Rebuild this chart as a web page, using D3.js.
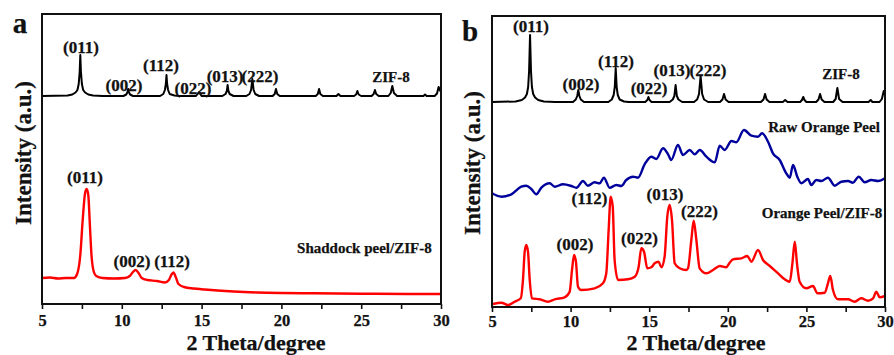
<!DOCTYPE html>
<html>
<head>
<meta charset="utf-8">
<script src="https://cdn.jsdelivr.net/npm/d3@7"></script>
<style>
body { margin: 0; background: #fff; }
text { font-family: "Liberation Serif", "Times New Roman", serif; font-weight: bold; fill: #111; stroke: #111; stroke-width: 0.25px; }
</style>
</head>
<body>
<div id="chart"></div>
<script>
// x axis
var xTicks = [5, 10, 15, 20, 25, 30];
var xMinor = [7.5, 12.5, 17.5, 22.5, 27.5];

// panel a : simulated ZIF-8 (2theta, intensity a.u.)
var zifA = [
  [5,208],[6.6,208.5],[6.9,209.5],[7.1,211.5],[7.22,214],[7.3,220],[7.36,232],[7.4,249],[7.44,232],[7.5,220],[7.58,214],[7.7,211.5],[7.9,209.5],[8.2,208.5],[8.8,208],
  [10.1,208],[10.28,209.5],[10.36,212],[10.4,215],[10.44,212],[10.52,209.5],[10.7,208],
  [12.4,208],[12.6,210],[12.7,214],[12.76,220],[12.8,229],[12.84,220],[12.9,214],[13.0,210],[13.3,208.5],[13.6,208],
  [14.65,208],[14.84,212],[15.0,208],
  [16.3,208],[16.5,210],[16.58,213],[16.63,219],[16.68,213],[16.76,210],[17.0,208],
  [17.8,208],[18.0,210],[18.1,214],[18.18,225],[18.26,214],[18.36,210],[18.6,208],
  [19.45,208],[19.58,210],[19.66,215],[19.74,210],[19.9,208],
  [22.15,208],[22.28,210],[22.36,215],[22.44,210],[22.6,208],
  [23.45,208],[23.57,210],[23.7,208],
  [24.55,208],[24.68,209.5],[24.76,213],[24.84,209.5],[25.0,208],
  [25.65,208],[25.78,210],[25.86,214],[25.94,210],[26.1,208],
  [26.7,208],[26.85,211],[26.95,218],[27.05,211],[27.25,208],
  [28.9,208],[29.0,209.5],[29.1,208],
  [29.6,208],[29.75,210.5],[29.85,217],[29.93,214],[30,212]
];

// panel a : Shaddock peel/ZIF-8
var shaddockA = [
  [5,26],[5.5,26.5],[6,25.5],[6.5,26],[7.0,26],[7.2,30],[7.4,49],[7.55,84],[7.7,111],[7.8,115],[7.9,109],[8.0,79],[8.1,49],
  [8.25,32],[8.4,28],[8.8,26],[9.5,25.5],[10.2,26],[10.5,28],[10.7,32],[10.87,34],[11.05,31],[11.25,26],[11.6,24],
  [12.2,23],[12.7,21.5],[12.95,24],[13.1,29],[13.23,31.5],[13.38,27],[13.55,20],[13.9,17],[14.5,15.5],[15.2,14.5],
  [16,13.5],[17,12.5],[18.5,11.5],[20,11],[22,10.7],[25,10.3],[28,10],[30,10]
];

// panel b : simulated ZIF-8
var zifB = [
  [5,205],[6.5,205.5],[6.9,207],[7.1,209.5],[7.22,213],[7.3,220],[7.36,236],[7.42,272],[7.48,236],[7.54,220],[7.62,213],[7.74,209.5],[7.94,207],[8.3,205.5],[9,205],
  [10.15,205],[10.33,207.5],[10.42,211],[10.49,217],[10.56,211],[10.65,207.5],[10.85,205],
  [12.4,205],[12.62,207.5],[12.74,212],[12.81,220],[12.87,239],[12.93,220],[13.0,212],[13.12,207.5],[13.4,205.5],[13.7,205],
  [14.75,205],[14.88,207],[14.95,210],[15.02,207],[15.15,205],
  [16.3,205],[16.5,207.5],[16.6,211],[16.68,222],[16.76,211],[16.86,207.5],[17.1,205],
  [17.85,205],[18.05,207.5],[18.17,213],[18.27,231],[18.37,213],[18.49,207.5],[18.75,205],
  [19.5,205],[19.66,207.5],[19.76,213],[19.86,207.5],[20.05,205],
  [22.1,205],[22.27,207.5],[22.37,213],[22.47,207.5],[22.65,205],
  [23.5,205],[23.65,207],[23.8,205],
  [24.6,205],[24.72,207],[24.8,210],[24.88,207],[25.0,205],
  [25.62,205],[25.77,207.5],[25.87,213],[25.97,207.5],[26.15,205],
  [26.7,205],[26.86,208],[26.97,219],[27.08,208],[27.3,205],
  [28.95,205],[29.09,207],[29.2,205],
  [29.65,205],[29.8,208],[29.92,216],[30,213]
];

// panel b : Raw Orange Peel
var rawPeelB = [
  [5.0,113.7],[5.6,110.3],[6.23,112.7],[6.86,120.3],[7.18,121.3],[7.5,118],[7.82,112.7],[8.14,119.3],[8.67,123.7],[8.99,120.3],
  [9.52,122.7],[10.05,121],[10.37,119.3],[10.79,126],[11.1,121.3],[11.53,124.7],[11.85,123.7],[12.12,129.3],[12.48,119.3],
  [12.91,122],[13.22,121],[13.54,127],[13.97,130.3],[14.29,129.3],[14.71,142.7],[15.13,150.3],[15.45,148],[15.88,158.7],
  [16.2,152.7],[16.4,147],[16.83,162],[17.15,152],[17.58,157],[17.89,152.7],[18.21,157],[18.64,150.3],[19.17,144.7],
  [19.49,161.3],[19.8,157],[20.23,166],[20.54,164.7],[21.03,177],[21.5,171.3],[21.92,170.3],[22.18,173.7],[22.56,165.3],
  [22.87,153.7],[23.3,147],[23.72,133.7],[23.94,129.3],[24.15,142],[24.42,130.3],[24.68,123.7],[25.1,128],[25.31,122],
  [25.63,127],[25.95,126],[26.37,129.3],[26.8,121.3],[27.22,125.3],[27.65,126],[27.96,124.3],[28.33,130.3],[28.71,124.7],
  [29.13,127],[29.56,126],[30,128.7]
];

// panel b : Orange Peel/ZIF-8
var peelZifB = [
  [5.06,3],[5.6,4.3],[6.02,2],[6.44,5.3],[6.83,8.7],[6.97,27],[7.08,55.3],[7.18,62],[7.29,55.3],[7.4,27],[7.54,8.7],
  [8.03,7.7],[8.56,5.3],[8.99,7.7],[9.62,9.7],[9.94,15.3],[10.09,37],[10.22,52],[10.34,45.3],[10.47,20.3],[10.68,17],
  [11.53,18.7],[12.06,23.7],[12.27,33.7],[12.42,77],[12.55,110.3],[12.68,100.3],[12.8,47],[13.02,27],[13.65,27.7],
  [14.08,30.3],[14.33,40.3],[14.5,58.7],[14.67,55.3],[14.88,38.7],[15.13,39.7],[15.35,43.7],[15.6,45.3],[15.77,39.7],
  [15.98,50.3],[16.15,90.3],[16.3,102],[16.45,87],[16.62,43.7],[16.94,38.7],[17.36,37],[17.47,38.7],[17.68,67],
  [17.83,86.3],[18.0,67],[18.21,38.7],[18.64,33.7],[19.06,37],[19.49,41],[19.9,39.7],[20.12,44.3],[20.33,47.7],
  [20.86,48.7],[21.24,51],[21.5,45.3],[21.92,57],[22.24,47],[22.67,41],[23.2,33.7],[23.62,27.7],[23.94,25.3],
  [24.11,43.7],[24.26,65.3],[24.4,43.7],[24.57,25.3],[25.0,18.7],[25.42,21],[25.7,13.7],[26.17,14.3],[26.37,23.7],
  [26.52,31],[26.69,17],[27.01,7.7],[27.65,7.7],[28.07,5.3],[28.49,8.7],[28.92,6.3],[29.24,8.7],[29.45,15.3],
  [29.66,9.7],[30,11]
];

// annotations: [text, 2theta, intensity]
var labelsA = [
  ["(011)", 7.44, 251], ["(002)", 10.14, 213], ["(112)", 12.46, 233], ["(022)", 14.46, 210],
  ["(013)", 16.47, 222], ["(222)", 18.66, 222],
  ["(011)", 7.69, 121], ["(002)", 10.64, 37], ["(112)", 13.15, 37]
];
var seriesNamesA = [["ZIF-8", 26.87, 222.5], ["Shaddock peel/ZIF-8", 25.2, 51]];
var labelsB = [
  ["(011)", 7.48, 275], ["(002)", 10.66, 217], ["(112)", 12.89, 240], ["(022)", 14.99, 213],
  ["(013)", 16.45, 231], ["(222)", 18.74, 231],
  ["(002)", 10.28, 57], ["(112)", 11.2, 103], ["(022)", 14.38, 63], ["(013)", 16.0, 107], ["(222)", 18.2, 90]
];
var seriesNamesB = [["ZIF-8", 27.2, 228], ["Raw Orange Peel", 26.12, 175], ["Orange Peel/ZIF-8", 25.99, 89]];

var W = 894, H = 355;
var svg = d3.select("#chart").append("svg")
    .attr("width", W)
    .attr("height", H);
svg.append("rect").attr("width", W).attr("height", H).attr("fill", "#fff");

function drawPanel(p) {
    var x = d3.scaleLinear().domain([5, 30]).range([p.left, p.right]);
    var y = d3.scaleLinear().domain([0, p.yMax]).range([p.bottom, p.top]);
    var g = svg.append("g");

    // series
    p.series.forEach(function(s) {
        var line = d3.line()
            .x(function(d) { return x(d[0]); })
            .y(function(d) { return y(d[1]); })
            .curve(s.curve);
        g.append("path")
            .datum(s.data)
            .attr("d", line)
            .attr("fill", "none")
            .attr("stroke", s.color)
            .attr("stroke-width", s.width)
            .attr("stroke-linejoin", "round");
    });

    // x axis, ticks outward
    var ax = g.append("g")
        .attr("transform", "translate(0," + p.bottom + ")")
        .call(d3.axisBottom(x).tickValues(xTicks).tickSizeInner(5).tickSizeOuter(0).tickPadding(p.pad).tickFormat(d3.format("d")));
    ax.select(".domain").remove();
    ax.selectAll(".tick line").attr("stroke", "#111").attr("stroke-width", 1.6);
    ax.selectAll("text").style("font-size", "16.5px").attr("fill", "#111");

    var mn = g.append("g")
        .attr("transform", "translate(0," + p.bottom + ")")
        .call(d3.axisBottom(x).tickValues(xMinor).tickSizeInner(5).tickSizeOuter(0).tickFormat(""));
    mn.select(".domain").remove();
    mn.selectAll(".tick line").attr("stroke", "#111").attr("stroke-width", 1.6);

    // frame
    g.append("rect")
        .attr("x", p.left).attr("y", p.top)
        .attr("width", p.right - p.left).attr("height", p.bottom - p.top)
        .attr("fill", "none").attr("stroke", "#111").attr("stroke-width", 2);

    // peak labels
    g.selectAll(".hkl").data(p.labels).enter().append("text")
        .attr("x", function(d) { return x(d[1]); })
        .attr("y", function(d) { return y(d[2]); })
        .attr("text-anchor", "middle")
        .style("font-size", "17px")
        .text(function(d) { return d[0]; });

    g.selectAll(".name").data(p.names).enter().append("text")
        .attr("x", function(d) { return x(d[1]); })
        .attr("y", function(d) { return y(d[2]); })
        .attr("text-anchor", "middle")
        .style("font-size", "15px")
        .text(function(d) { return d[0]; });

    // axis titles
    g.append("text")
        .attr("x", p.xTitleX).attr("y", p.xTitleY)
        .attr("text-anchor", "middle")
        .style("font-size", "22px")
        .text("2 Theta/degree");
    g.append("text")
        .attr("transform", "translate(" + p.yTitleX + "," + p.yTitleY + ") rotate(-90)")
        .attr("text-anchor", "middle")
        .style("font-size", "23px")
        .text("Intensity (a.u.)");

    // panel letter
    g.append("text")
        .attr("x", p.letterX).attr("y", p.letterY)
        .attr("text-anchor", "middle")
        .style("font-size", "29px")
        .text(p.letter);
}

drawPanel({
    left: 42, right: 441, top: 14, bottom: 304, yMax: 290, pad: 5,
    series: [
        {data: zifA, color: "#000", width: 2, curve: d3.curveLinear},
        {data: shaddockA, color: "#ff0000", width: 2.4, curve: d3.curveMonotoneX}
    ],
    labels: labelsA, names: seriesNamesA,
    xTitleX: 256, xTitleY: 349.5, yTitleX: 31, yTitleY: 153,
    letter: "a", letterX: 20, letterY: 33
});

drawPanel({
    left: 492, right: 885, top: 16, bottom: 307, yMax: 291, pad: 3,
    series: [
        {data: zifB, color: "#000", width: 2, curve: d3.curveLinear},
        {data: rawPeelB, color: "#00009c", width: 2.4, curve: d3.curveMonotoneX},
        {data: peelZifB, color: "#ff0000", width: 2.4, curve: d3.curveMonotoneX}
    ],
    labels: labelsB, names: seriesNamesB,
    xTitleX: 696, xTitleY: 350, yTitleX: 480, yTitleY: 163,
    letter: "b", letterX: 470, letterY: 41
});
</script>
</body>
</html>
